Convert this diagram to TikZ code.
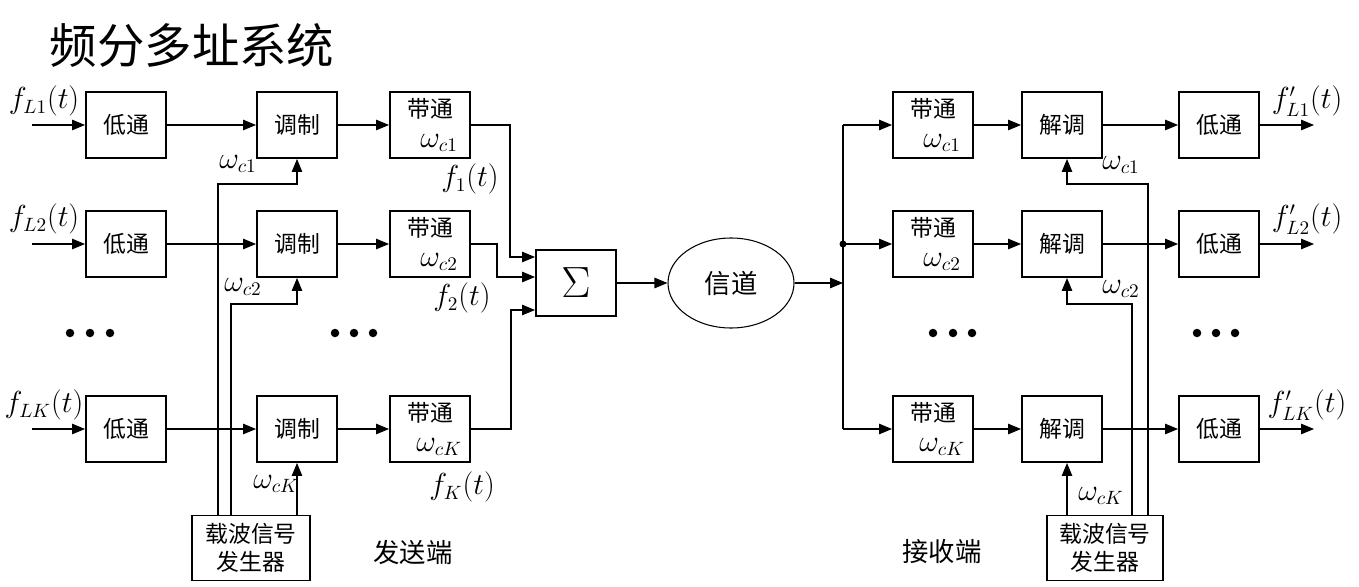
\documentclass[tikz,border=0pt]{standalone}
\usepackage{fontspec}
\newfontfamily\cjk{Noto Sans CJK SC}
\usetikzlibrary{positioning,arrows.meta,shapes.geometric}

\begin{document}
\begin{tikzpicture}[x=0.2mm,y=-0.2mm,
		box/.style={draw,line width=1.1pt,minimum width=16mm,minimum height=13.2mm,inner sep=1pt,align=center,font=\cjk\fontsize{13}{16}\selectfont},
		gen/.style={box,minimum width=23.6mm,minimum height=13mm},
		arw/.style={line width=0.6pt,-{Triangle[length=2.6mm,width=2.1mm]}},
		wire/.style={line width=0.6pt},
		lbl/.style={inner sep=0pt,font=\fontsize{16}{19}\selectfont},
		txt/.style={inner sep=0pt,font=\cjk\fontsize{15}{18}\selectfont}]
		\useasboundingbox (0,0) rectangle (1359,587);
		
		% 标题
		\node[inner sep=0pt,font=\cjk\fontsize{27}{30}\selectfont] (title) at (192,45) {频分多址系统};
		
		% 发送端方框
		\node[box] (lp1) at (126,125) {低通};
		\node[box] (lp2) at (126,244) {低通};
		\node[box] (lpK) at (126,429) {低通};
		\node[box] (mod1) at (297,125) {调制};
		\node[box] (mod2) at (297,244) {调制};
		\node[box] (modK) at (297,429) {调制};
		\node[box] (bp1) at (430,125) {带通\\[1pt]\hspace*{0.8em}{\fontsize{16}{16}\selectfont$\omega_{c1}$}};
		\node[box] (bp2) at (430,244) {带通\\[1pt]\hspace*{0.8em}{\fontsize{16}{16}\selectfont$\omega_{c2}$}};
		\node[box] (bpK) at (430,429) {带通\\[1pt]\hspace*{0.8em}{\fontsize{16}{16}\selectfont$\omega_{cK}$}};
		\node[gen] (genL) at (251,548) {载波信号\\发生器};
		
		% 求和与信道
		\node[box] (sum) at (576,283) {\fontsize{24}{26}\selectfont$\Sigma$};
		\node[draw,ellipse,wire,minimum width=25.2mm,minimum height=18mm,font=\cjk\fontsize{15}{18}\selectfont] (ch) at (731,283) {信道};
		
		% 接收端方框
		\node[box] (rbp1) at (933,125) {带通\\[1pt]\hspace*{0.8em}{\fontsize{16}{16}\selectfont$\omega_{c1}$}};
		\node[box] (rbp2) at (933,244) {带通\\[1pt]\hspace*{0.8em}{\fontsize{16}{16}\selectfont$\omega_{c2}$}};
		\node[box] (rbpK) at (933,429) {带通\\[1pt]\hspace*{0.8em}{\fontsize{16}{16}\selectfont$\omega_{cK}$}};
		\node[box] (dem1) at (1062,125) {解调};
		\node[box] (dem2) at (1062,244) {解调};
		\node[box] (demK) at (1062,429) {解调};
		\node[box] (rlp1) at (1219,125) {低通};
		\node[box] (rlp2) at (1219,244) {低通};
		\node[box] (rlpK) at (1219,429) {低通};
		\node[gen,minimum width=23.2mm] (genR) at (1105,548) {载波信号\\发生器};
		
		% 输入
		\coordinate (in1) at (32,125);
		\coordinate (in2) at (32,244);
		\coordinate (inK) at (32,429);
		\draw[arw] (in1) -- (lp1);
		\draw[arw] (in2) -- (lp2);
		\draw[arw] (inK) -- (lpK);
		\node[lbl] (fL1) at (44,101) {$f_{L1}(t)$};
		\node[lbl] (fL2) at (44,219) {$f_{L2}(t)$};
		\node[lbl] (fLK) at (44,405) {$f_{LK}(t)$};
		
		% 发送端连线
		\draw[arw] (lp1) -- (mod1);
		\draw[arw] (lp2) -- (mod2);
		\draw[arw] (lpK) -- (modK);
		\draw[arw] (mod1) -- (bp1);
		\draw[arw] (mod2) -- (bp2);
		\draw[arw] (modK) -- (bpK);
		\draw[arw] (bp1.east) -- ++(39,0) |- ([yshift=5.2mm]sum.west);
		\draw[arw] (bp2.east) -- ++(26,0) |- ([yshift=1.2mm]sum.west);
		\draw[arw] (bpK.east) -- ++(40,0) |- ([yshift=-5.4mm]sum.west);
		\node[lbl] (f1) at (470,179) {$f_1(t)$};
		\node[lbl] (f2) at (462,298) {$f_2(t)$};
		\node[lbl] (fK) at (462,487) {$f_K(t)$};
		
		% 发送端载波
		\coordinate (tL1) at (218,184);
		\coordinate (tL2) at (231,304);
		\draw[arw] (genL.north -| tL1) -- (tL1) -| (mod1.south);
		\draw[arw] (genL.north -| tL2) -- (tL2) -| (mod2.south);
		\draw[arw] (genL.north -| modK.south) -- (modK.south);
		\node[lbl] (wL1) at (238,164) {$\omega_{c1}$};
		\node[lbl] (wL2) at (243,287) {$\omega_{c2}$};
		\node[lbl] (wLK) at (276,484) {$\omega_{cK}$};
		
		% 求和 -> 信道 -> 接收端
		\coordinate (bus1) at (843,125);
		\coordinate (bus2) at (843,244);
		\coordinate (busK) at (843,429);
		\coordinate (busC) at (843,283);
		\draw[arw] (sum) -- (ch);
		\draw[arw] (ch) -- (busC);
		\draw[wire] (bus1) -- (busK);
		\fill (bus2) circle[radius=0.7mm];
		\draw[arw] (bus1) -- (rbp1);
		\draw[arw] (bus2) -- (rbp2);
		\draw[arw] (busK) -- (rbpK);
		
		% 接收端连线
		\draw[arw] (rbp1) -- (dem1);
		\draw[arw] (rbp2) -- (dem2);
		\draw[arw] (rbpK) -- (demK);
		\draw[arw] (dem1) -- (rlp1);
		\draw[arw] (dem2) -- (rlp2);
		\draw[arw] (demK) -- (rlpK);
		\coordinate (out1) at (1314,125);
		\coordinate (out2) at (1314,244);
		\coordinate (outK) at (1314,429);
		\draw[arw] (rlp1) -- (out1);
		\draw[arw] (rlp2) -- (out2);
		\draw[arw] (rlpK) -- (outK);
		\node[lbl] (g1) at (1307,101) {$f'_{L1}(t)$};
		\node[lbl] (g2) at (1307,219) {$f'_{L2}(t)$};
		\node[lbl] (gK) at (1307,405) {$f'_{LK}(t)$};
		
		% 接收端载波
		\coordinate (d1) at ([xshift=1mm]dem1.south);
		\coordinate (d2) at ([xshift=1mm]dem2.south);
		\coordinate (dK) at ([xshift=1mm]demK.south);
		\coordinate (tR1) at (1148,184);
		\coordinate (tR2) at (1132,304);
		\draw[arw] (genR.north -| tR1) -- (tR1) -| (d1);
		\draw[arw] (genR.north -| tR2) -- (tR2) -| (d2);
		\draw[arw] (genR.north -| dK) -- (dK);
		\node[lbl] (wR1) at (1121,165) {$\omega_{c1}$};
		\node[lbl] (wR2) at (1121,289) {$\omega_{c2}$};
		\node[lbl] (wRK) at (1101,496) {$\omega_{cK}$};
		
		% 省略号
		\foreach \x in {70,90,110,335,354,373,933,953,972,1197,1216,1235}
			\fill (\x,333) circle[radius=0.85mm];
		
		% 两端说明
		\node[txt] (tx) at (413,552) {发送端};
		\node[txt] (rx) at (942,552) {接收端};
	\end{tikzpicture}
\end{document}
